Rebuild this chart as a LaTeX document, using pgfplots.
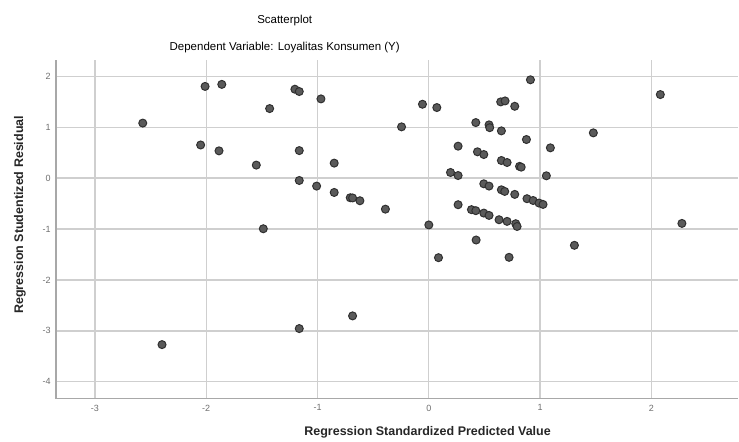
\documentclass[border=0pt]{standalone}
\usepackage{fontspec}
\setmainfont{Liberation Sans}
\usepackage{pgfplots}
\pgfplotsset{compat=1.18}
\definecolor{gridc}{HTML}{CFCFCF}
\definecolor{axc}{HTML}{A8A8A8}
\definecolor{tickc}{HTML}{6E6E6E}
\definecolor{dotf}{HTML}{5A5A5A}
\definecolor{dotd}{HTML}{303030}
\begin{document}
\begin{tikzpicture}
\begin{axis}[
  scale only axis, width=683pt, height=339pt,
  xmin=-3.35, xmax=2.78, ymin=-4.33, ymax=2.32,
  axis x line=bottom, axis y line=left,
  axis line style={draw=axc, line width=1.5pt, -},
  xtick={-3,-2,-1,0,1,2}, ytick={-4,-3,-2,-1,0,1,2},
  major tick length=0pt,
  grid=major, major grid style={draw=gridc, line width=1.3pt},
  /pgf/number format/assume math mode=true,
  ticklabel style={font=\fontsize{9}{10}\selectfont, text=tickc, inner sep=0pt},
  yticklabel style={xshift=-5pt},
  xticklabel style={yshift=-6pt},
  clip=false,
]
\addplot[only marks, mark=*, mark size=4pt,
  mark options={fill=dotf, draw=dotd, line width=1pt}] coordinates {
(-2.57,1.08) (-2.01,1.80) (-1.86,1.84) (-2.05,0.65) (-1.885,0.535)
(-1.55,0.255) (-1.43,1.365) (-1.203,1.745) (-1.164,1.70) (-0.969,1.555)
(-0.245,1.006) (-1.164,0.54) (-0.85,0.294) (-1.164,-0.047) (-1.008,-0.157)
(-0.85,-0.282) (-0.706,-0.386) (-0.685,-0.39) (-0.619,-0.445) (-0.39,-0.61)
(-1.487,-0.995) (0.0,-0.92) (0.425,-1.216) (-0.057,1.45) (0.072,1.385)
(0.913,1.93) (0.646,1.496) (0.685,1.515) (0.772,1.41) (0.422,1.09)
(0.541,1.045) (0.547,0.99) (0.652,0.927) (0.877,0.757) (1.092,0.594)
(0.263,0.627) (0.437,0.516) (0.494,0.463) (0.652,0.345) (0.703,0.306)
(0.815,0.23) (0.83,0.215) (0.195,0.11) (0.263,0.05) (1.056,0.045)
(0.494,-0.112) (0.541,-0.157) (0.652,-0.23) (0.682,-0.262) (0.772,-0.32)
(0.882,-0.405) (0.937,-0.44) (0.99,-0.49) (1.026,-0.517) (0.263,-0.523)
(0.383,-0.62) (0.422,-0.64) (0.494,-0.687) (0.541,-0.733) (0.631,-0.818)
(0.703,-0.85) (0.781,-0.896) (0.793,-0.95) (0.087,-1.563) (0.721,-1.556)
(2.08,1.64) (1.478,0.888) (2.274,-0.89) (1.308,-1.32) (-2.397,-3.27)
(-1.164,-2.955) (-0.685,-2.706)
};
\node[font=\fontsize{11.5}{13}\selectfont, text=black] at (rel axis cs:0.3353,1.115) {Scatterplot};
\node[font=\fontsize{11.5}{13}\selectfont, text=black] at (rel axis cs:0.3353,1.0354) {Dependent Variable: Loyalitas Konsumen (Y)};
\node[font=\bfseries\fontsize{12.5}{14}\selectfont, text=black!85] at (rel axis cs:0.5447,-0.1003) {Regression Standardized Predicted Value};
\node[font=\bfseries\fontsize{12.5}{14}\selectfont, text=black!85, rotate=90] at (rel axis cs:-0.0527,0.5428) {Regression Studentized Residual};
\path (rel axis cs:-0.08199,-0.12684) rectangle (rel axis cs:1,1.17699);
\end{axis}
\end{tikzpicture}
\end{document}
